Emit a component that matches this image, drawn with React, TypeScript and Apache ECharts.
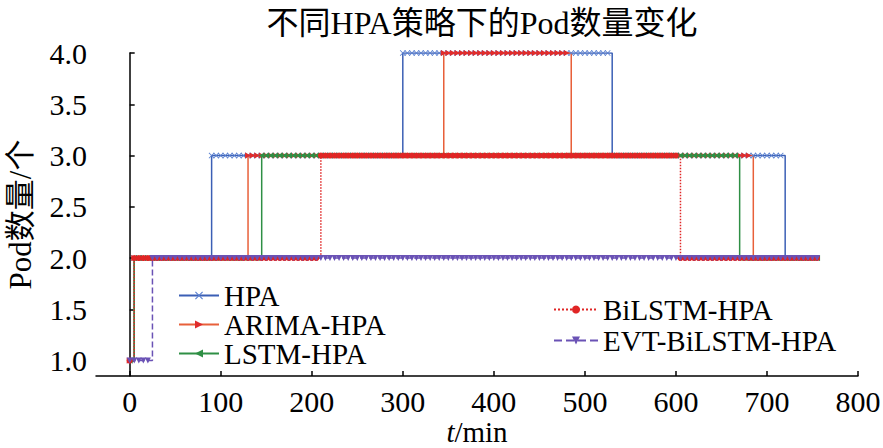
import React, { useEffect, useRef } from "react";
import * as echarts from "echarts";

// Step data: [start minute, Pod count] — value holds until the next start
const sampleStep = 5;
const endMinute = 755;
const hpaSteps = [[0, 1], [5, 2], [90, 3], [300, 4], [530, 3], [720, 2]];
const arimaSteps = [[0, 1], [5, 2], [130, 3], [345, 4], [485, 3], [685, 2]];
const lstmSteps = [[0, 1], [5, 2], [145, 3], [670, 2]];
const bilstmSteps = [[0, 1], [5, 2], [210, 3], [605, 2]];
const evtSteps = [[0, 1], [25, 2]];

const seriesNames = ["HPA", "ARIMA-HPA", "LSTM-HPA", "BiLSTM-HPA", "EVT-BiLSTM-HPA"];
const xTicks = [0, 100, 200, 300, 400, 500, 600, 700, 800];
const yTicks = [1.0, 1.5, 2.0, 2.5, 3.0, 3.5, 4.0];

function expand(steps: number[][]): number[][] {
  const out: number[][] = [];
  for (let t = 0; t <= endMinute; t += sampleStep) {
    let v = steps[0][1];
    for (const [s, val] of steps) if (t >= s) v = val;
    out.push([t, v]);
  }
  return out;
}

const FONT = "'Liberation Serif', 'Times New Roman', 'Noto Sans CJK SC', serif";

export default function App() {
  const ref = useRef<HTMLDivElement>(null);
  useEffect(() => {
    document.body.style.margin = "0";
    const chart = echarts.init(ref.current!, null, { renderer: "svg" });
    const mk = (
      name: string,
      steps: number[][],
      lineColor: string,
      markColor: string,
      symbol: string,
      type: string,
      size: number
    ) => ({
      name,
      type: "line",
      step: "end",
      data: expand(steps),
      symbol,
      symbolSize: size,
      showAllSymbol: true,
      lineStyle: { color: lineColor, width: 1.5, type },
      itemStyle: { color: markColor },
    });
    chart.setOption({
      animation: false,
      title: {
        text: "不同HPA策略下的Pod数量变化",
        left: 477,
        textAlign: "center",
        top: 2,
        textStyle: { fontFamily: FONT, fontSize: 32, fontWeight: "normal", color: "#000" },
      },
      legend: [
        {
          data: seriesNames.slice(0, 3),
          orient: "vertical",
          left: 173,
          top: 276,
          itemWidth: 40,
          itemHeight: 10,
          itemGap: 0,
          textStyle: { fontFamily: FONT, fontSize: 29, color: "#000", lineHeight: 28 },
        },
        {
          data: seriesNames.slice(3),
          orient: "vertical",
          left: 548,
          top: 290,
          itemWidth: 44,
          itemHeight: 10,
          itemGap: 2,
          textStyle: { fontFamily: FONT, fontSize: 29, color: "#000", lineHeight: 28 },
        },
      ],
      grid: { left: 96, right: 25, top: 53, bottom: 72, outerBoundsMode: "none" },
      xAxis: {
        type: "value",
        min: -37,
        max: 800,
        name: "{i|t}/min",
        nameLocation: "middle",
        nameGap: 41,
        nameMoveOverlap: false,
        nameTextStyle: {
          fontFamily: FONT,
          fontSize: 29,
          lineHeight: 29,
          color: "#000",
          rich: { i: { fontFamily: FONT, fontSize: 29, lineHeight: 29, fontStyle: "italic", color: "#000" } },
        },
        axisLine: { show: true, lineStyle: { color: "#000", width: 1.5 } },
        axisTick: { show: true, inside: true, length: 5, customValues: xTicks, lineStyle: { color: "#000", width: 1.5 } },
        axisLabel: { customValues: xTicks, margin: 10, fontFamily: FONT, fontSize: 30, color: "#000" },
        splitLine: { show: false },
      },
      yAxis: {
        type: "value",
        min: 0.85,
        max: 4.0,
        name: "Pod数量/个",
        nameLocation: "middle",
        nameGap: 60,
        nameMoveOverlap: false,
        nameTextStyle: { fontFamily: FONT, fontSize: 31, color: "#000" },
        axisLine: { show: true, lineStyle: { color: "#000", width: 1.5 } },
        axisTick: { show: true, inside: true, length: 5, customValues: yTicks, lineStyle: { color: "#000", width: 1.5 } },
        axisLabel: {
          customValues: yTicks,
          margin: 9,
          fontFamily: FONT,
          fontSize: 30,
          color: "#000",
          formatter: (v: number) => v.toFixed(1),
        },
        splitLine: { show: false },
      },
      series: [
        mk(seriesNames[0], hpaSteps, "#3b5fb5", "#5a80d0",
          "path://M0,1L1,0L5,4L9,0L10,1L6,5L10,9L9,10L5,6L1,10L0,9L4,5Z", "solid", 6),
        mk(seriesNames[1], arimaSteps, "#e8603a", "#e02c2c", "path://M0,0L10,5L0,10Z", "solid", 6),
        mk(seriesNames[2], lstmSteps, "#2f8f45", "#2f8f45", "path://M10,0L0,5L10,10Z", "solid", 6),
        mk(seriesNames[3], bilstmSteps, "#e02525", "#e02525", "circle", "dotted", 6),
        mk(seriesNames[4], evtSteps, "#6a52b5", "#6a52b5", "path://M0,0L10,0L5,9Z", "dashed", 6),
      ],
    });
    return () => chart.dispose();
  }, []);
  return <div ref={ref} style={{ width: 883, height: 448 }} />;
}
